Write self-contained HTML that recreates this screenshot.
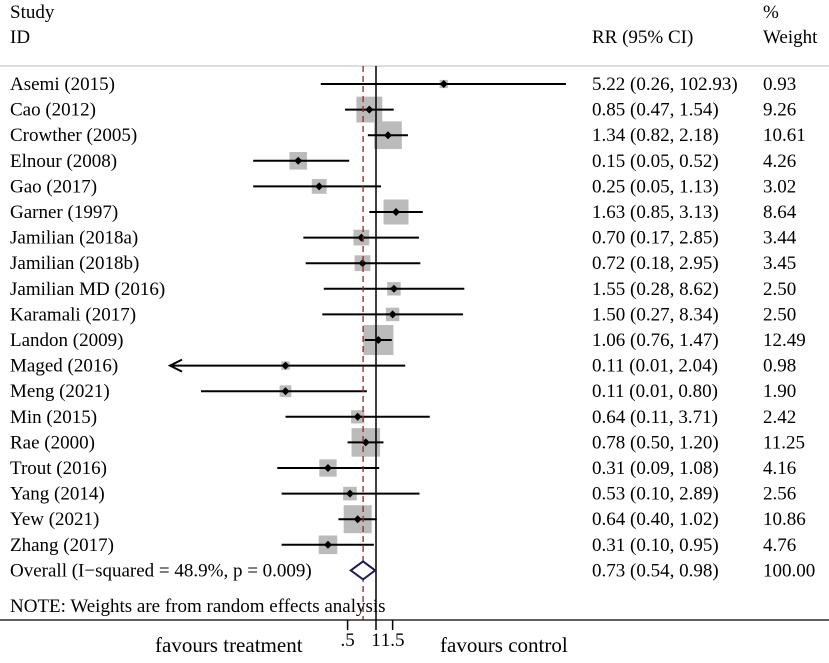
<!DOCTYPE html>
<html><head><meta charset="utf-8"><style>
body{margin:0;background:#fff}
svg text{font-family:"Liberation Serif",serif;font-size:19px;fill:#000}
</style></head><body>
<svg id="plot" width="829" height="658">
<text x="10" y="18">Study</text>
<text x="10" y="43">ID</text>
<text x="592" y="43">RR (95% CI)</text>
<text x="763" y="18">%</text>
<text x="763" y="43">Weight</text>
<line x1="0" y1="66" x2="829" y2="66" stroke="#bbb"/>
<g id="marks"></g>
<text x="10" y="612">NOTE: Weights are from random effects analysis</text>
<line x1="0" y1="620" x2="829" y2="620" stroke="#000" stroke-width="1.3"/>
<text x="155" y="652" style="font-size:21px">favours treatment</text>
<text x="440" y="652" style="font-size:21px">favours control</text>
</svg>
<script>
const studies=["Asemi (2015)","Cao (2012)","Crowther (2005)","Elnour (2008)","Gao (2017)","Garner (1997)","Jamilian (2018a)","Jamilian (2018b)","Jamilian MD (2016)","Karamali (2017)","Landon (2009)","Maged (2016)","Meng (2021)","Min (2015)","Rae (2000)","Trout (2016)","Yang (2014)","Yew (2021)","Zhang (2017)"];
const rr=[5.22,0.85,1.34,0.15,0.25,1.63,0.70,0.72,1.55,1.50,1.06,0.11,0.11,0.64,0.78,0.31,0.53,0.64,0.31];
const lo=[0.26,0.47,0.82,0.05,0.05,0.85,0.17,0.18,0.28,0.27,0.76,0.006,0.014,0.11,0.50,0.09,0.10,0.40,0.10];
const hi=[102.93,1.54,2.18,0.52,1.13,3.13,2.85,2.95,8.62,8.34,1.47,2.04,0.80,3.71,1.20,1.08,2.89,1.02,0.95];
const weights=[0.93,9.26,10.61,4.26,3.02,8.64,3.44,3.45,2.50,2.50,12.49,0.98,1.90,2.42,11.25,4.16,2.56,10.86,4.76];
const overall=[0.73,0.54,0.98];
const ticks=[0.5,1,1.5];
const tickLabels=[".5","1","1.5"];
const X=v=>376+41*Math.log(v), Y=i=>84+25.6*i, XMIN=170;
const ns="http://www.w3.org/2000/svg", g=document.getElementById('marks'), svg=document.getElementById('plot');
function mk(t,a,p){const e=document.createElementNS(ns,t);for(const k in a)e.setAttribute(k,a[k]);(p||g).appendChild(e);return e;}
const f=v=>v.toFixed(2);
studies.forEach((s,i)=>{
  const y=Y(i),side=8.5*Math.sqrt(weights[i]);
  let t=mk('text',{x:10,y:y+6});t.textContent=s;
  
  
  let b=mk('rect',{x:X(rr[i])-side/2,y:y-side/2,width:side,height:side,fill:'#bbb'});
  
  
  const x1=Math.max(XMIN,X(lo[i]));
  let l=mk('line',{x1:x1,x2:X(hi[i]),y1:y,y2:y,stroke:'#000','stroke-width':2});
  
  
  if(X(lo[i])<XMIN){let a=mk('path',{d:`M${XMIN+12},${y-6}L${XMIN},${y}L${XMIN+12},${y+6}`,fill:'none',stroke:'#000','stroke-width':2});
  
  }
  const x=X(rr[i]);
  let d=mk('path',{d:`M${x},${y-4}L${x+4},${y}L${x},${y+4}L${x-4},${y}Z`,fill:'#000'});
  
  
  let c=mk('text',{x:592,y:y+6});c.textContent=`${f(rr[i])} (${f(lo[i])}, ${f(hi[i])})`;
  
  
  let w=mk('text',{x:763,y:y+6});w.textContent=f(weights[i]);
  
  
});
const oy=Y(19);
let ol=mk('text',{x:10,y:oy+6});ol.textContent='Overall  (I\u2212squared = 48.9%, p = 0.009)';


let ref=mk('line',{x1:376,x2:376,y1:66,y2:620,stroke:'#000','stroke-width':1.5});


let dl=mk('line',{x1:X(overall[0]),x2:X(overall[0]),y1:66,y2:620,stroke:'#a02020','stroke-width':1.3,'stroke-dasharray':'6,4'});


let od=mk('path',{d:`M${X(overall[1])},${oy}L${X(overall[0])},${oy-9}L${X(overall[2])},${oy}L${X(overall[0])},${oy+9}Z`,fill:'#fff',stroke:'#1a1a60','stroke-width':2});


let oc=mk('text',{x:592,y:oy+6});oc.textContent=`${f(overall[0])} (${f(overall[1])}, ${f(overall[2])})`;


let ow=mk('text',{x:763,y:oy+6});ow.textContent='100.00';


ticks.forEach((v,i)=>{
  let tk=mk('line',{x1:X(v),x2:X(v),y1:620,y2:630,stroke:'#000','stroke-width':1.5},svg);
  
  
  let tl=mk('text',{x:X(v),y:646,'text-anchor':'middle'},svg);tl.textContent=tickLabels[i];
  
  
});
</script>
</body></html>
